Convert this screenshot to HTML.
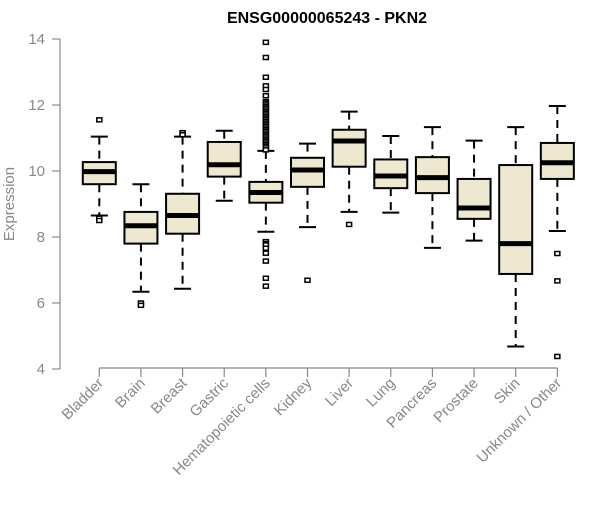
<!DOCTYPE html>
<html><head><meta charset="utf-8"><style>
body{margin:0;background:#fff;}
svg text{font-family:"Liberation Sans",sans-serif;}
</style></head><body>
<svg id="chart" width="600" height="500">
<text x="327" y="23" text-anchor="middle" font-size="16" font-weight="bold">ENSG00000065243 - PKN2</text>
<text transform="translate(14,204) rotate(-90)" text-anchor="middle" font-size="15" fill="#888">Expression</text>
<g id="yaxis"></g>
<g id="xaxis"></g>
<g id="boxes"></g>
</svg>
<script>
const categories=["Bladder","Brain","Breast","Gastric","Hematopoietic cells","Kidney","Liver","Lung","Pancreas","Prostate","Skin","Unknown / Other"];
const whiskerLow=[8.65,6.34,6.43,9.1,8.16,8.3,8.76,8.74,7.67,7.89,4.68,8.18];
const q1=[9.6,7.8,8.1,9.83,9.04,9.52,10.13,9.48,9.33,8.55,6.88,9.76];
const medians=[9.98,8.34,8.65,10.19,9.35,10.03,10.91,9.85,9.8,8.88,7.8,10.25];
const q3=[10.27,8.76,9.31,10.88,9.67,10.4,11.25,10.35,10.42,9.76,10.18,10.85];
const whiskerHigh=[11.04,9.6,11.04,11.22,10.61,10.83,11.8,11.06,11.33,10.92,11.33,11.97];
const outliers=[[11.55,8.57,8.5],[6.0,5.93],[11.16,11.1],[],
[13.9,13.44,12.84,12.58,12.47,12.28,12.1,12.05,12.0,11.95,11.9,11.85,11.8,11.75,11.7,11.65,11.6,11.55,11.5,11.45,11.4,11.35,11.3,11.25,11.2,11.15,11.1,11.05,11.0,10.95,10.9,10.85,10.8,10.75,10.7,10.64,7.86,7.8,7.76,7.66,7.51,7.27,6.75,6.51],
[6.69],[8.38],[],[],[],[],[7.5,6.67,4.38]];
const yTicks=[4,6,8,10,12,14];
const NS="http://www.w3.org/2000/svg";
const y=v=>369-(v-4)*33;
const x=i=>99.3+i*41.64;
function mk(t,a,p){const e=document.createElementNS(NS,t);for(const k in a)e.setAttribute(k,a[k]);p.appendChild(e);return e;}
const ya=document.getElementById('yaxis'),xa=document.getElementById('xaxis'),bx=document.getElementById('boxes');
const yl=mk('line',{x1:60,x2:60,y1:y(4),y2:y(14),stroke:'#888','stroke-width':1.2},ya);


yTicks.forEach(t=>{
 const l=mk('line',{x1:52,x2:60,y1:y(t),y2:y(t),stroke:'#888','stroke-width':1.2},ya);
 
 
 const tx=mk('text',{x:45,y:y(t)+5,'text-anchor':'end','font-size':15,fill:'#888'},ya);
 tx.textContent=t;
 
 
});
const xl=mk('line',{x1:x(0),x2:x(categories.length-1),y1:368,y2:368,stroke:'#888','stroke-width':1.2},xa);


categories.forEach((c,i)=>{
 const l=mk('line',{x1:x(i),x2:x(i),y1:368,y2:377,stroke:'#888','stroke-width':1.2},xa);
 
 
 const tx=mk('text',{transform:`translate(${x(i)+5},${384}) rotate(-45)`,'text-anchor':'end','font-size':15,fill:'#888'},xa);
 tx.textContent=c;
 
 
 const g=mk('g',{},bx);
 
 
 const cx=x(i),hw=16.5;
 mk('line',{x1:cx,x2:cx,y1:y(whiskerHigh[i]),y2:y(q3[i]),stroke:'#000','stroke-width':2,'stroke-dasharray':'8,6'},g);
 mk('line',{x1:cx,x2:cx,y1:y(q1[i]),y2:y(whiskerLow[i]),stroke:'#000','stroke-width':2,'stroke-dasharray':'8,6'},g);
 mk('line',{x1:cx-8.5,x2:cx+8.5,y1:y(whiskerHigh[i]),y2:y(whiskerHigh[i]),stroke:'#000','stroke-width':2},g);
 mk('line',{x1:cx-8.5,x2:cx+8.5,y1:y(whiskerLow[i]),y2:y(whiskerLow[i]),stroke:'#000','stroke-width':2},g);
 mk('rect',{x:cx-hw,y:y(q3[i]),width:hw*2,height:y(q1[i])-y(q3[i]),fill:'#ede8cf',stroke:'#000','stroke-width':2},g);
 mk('line',{x1:cx-hw,x2:cx+hw,y1:y(medians[i]),y2:y(medians[i]),stroke:'#000','stroke-width':5},g);
 outliers[i].forEach(o=>{
  const p=mk('rect',{x:cx-2.5,y:y(o)-2,width:5,height:4,fill:'#fff',stroke:'#000','stroke-width':1.5},g);
  
  
 });
});
</script>
</body></html>
